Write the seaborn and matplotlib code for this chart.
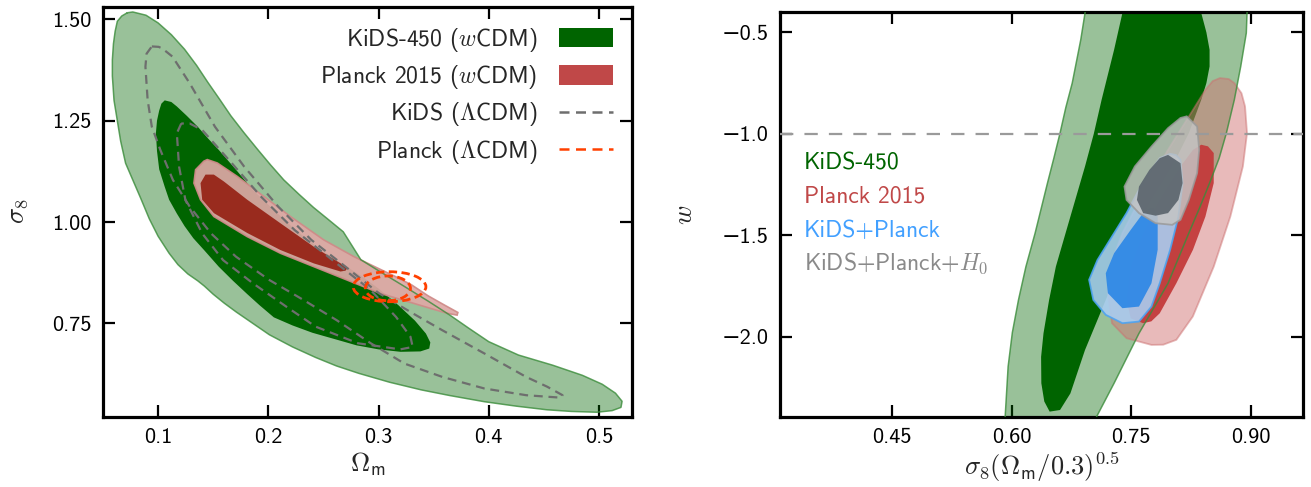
import numpy as np
import pandas as pd
import matplotlib
matplotlib.use("Agg")
import matplotlib.pyplot as plt
import seaborn as sns
from matplotlib.patches import Patch, Ellipse
from matplotlib.lines import Line2D
from matplotlib.ticker import FuncFormatter

sns.set_style("ticks")
plt.rcParams['font.family'] = ['cmss10', 'DejaVu Sans']
plt.rcParams['mathtext.fontset'] = 'cm'
plt.rcParams['axes.unicode_minus'] = True

# ---------------- data: left panel (Omega_m, sigma_8) ----------------
kids_w_outer_om = [0.072, 0.077, 0.089, 0.100, 0.112, 0.124, 0.135, 0.145, 0.156, 0.166, 0.178, 0.190, 0.202,
                   0.214, 0.228, 0.241, 0.255, 0.268, 0.284, 0.300, 0.323, 0.345, 0.365, 0.382, 0.400, 0.427,
                   0.458, 0.485, 0.503, 0.515, 0.521, 0.520, 0.512, 0.498, 0.475, 0.453, 0.425, 0.396, 0.365,
                   0.339, 0.310, 0.282, 0.262, 0.243, 0.222, 0.201, 0.186, 0.171, 0.160, 0.150, 0.142, 0.136,
                   0.127, 0.118, 0.110, 0.100, 0.092, 0.084, 0.077, 0.0705, 0.066, 0.063, 0.060, 0.0585,
                   0.0585, 0.0595, 0.061, 0.063, 0.067]
kids_w_outer_s8 = [1.516, 1.518, 1.510, 1.491, 1.462, 1.426, 1.386, 1.345, 1.302, 1.262, 1.220, 1.180, 1.141,
                   1.104, 1.068, 1.036, 1.005, 0.976, 0.907, 0.880, 0.842, 0.805, 0.770, 0.738, 0.705, 0.672,
                   0.647, 0.622, 0.600, 0.578, 0.558, 0.543, 0.535, 0.531, 0.533, 0.537, 0.546, 0.557, 0.572,
                   0.586, 0.605, 0.627, 0.645, 0.666, 0.692, 0.722, 0.750, 0.778, 0.800, 0.822, 0.842, 0.855,
                   0.872, 0.895, 0.923, 0.965, 1.008, 1.060, 1.104, 1.145, 1.200, 1.250, 1.300, 1.360,
                   1.400, 1.440, 1.470, 1.495, 1.508]

kids_w_inner_om = [0.106, 0.112, 0.117, 0.126, 0.136, 0.145, 0.155, 0.163, 0.171, 0.186, 0.205, 0.224, 0.247,
                   0.270, 0.285, 0.300, 0.318, 0.333, 0.343, 0.347, 0.346, 0.338, 0.320, 0.300, 0.280, 0.262,
                   0.240, 0.222, 0.205, 0.192, 0.181, 0.168, 0.155, 0.142, 0.132, 0.124, 0.117, 0.110, 0.106,
                   0.101, 0.099, 0.098, 0.099, 0.101, 0.103]
kids_w_inner_s8 = [1.300, 1.296, 1.285, 1.262, 1.235, 1.207, 1.178, 1.153, 1.128, 1.079, 1.030, 0.982, 0.933,
                   0.892, 0.866, 0.836, 0.795, 0.757, 0.725, 0.703, 0.688, 0.681, 0.680, 0.686, 0.696, 0.710,
                   0.727, 0.745, 0.765, 0.795, 0.822, 0.855, 0.890, 0.930, 0.960, 0.990, 1.021, 1.055, 1.087,
                   1.130, 1.175, 1.219, 1.250, 1.275, 1.292]

planck_w_outer_om = [0.1415, 0.134, 0.1325, 0.1385, 0.1506, 0.1809, 0.211, 0.2413, 0.2715, 0.3017, 0.3319,
                     0.3622, 0.3713, 0.372, 0.360, 0.345, 0.330, 0.315, 0.298, 0.2775, 0.2503, 0.2201, 0.196,
                     0.1718, 0.1537, 0.1446]
planck_w_outer_s8 = [1.150, 1.129, 1.096, 1.055, 1.0136, 0.964, 0.923, 0.890, 0.857, 0.824, 0.7995,
                     0.775, 0.7705, 0.777, 0.795, 0.818, 0.845, 0.866, 0.888, 0.915, 0.956, 1.0136, 1.063,
                     1.1125, 1.1456, 1.154]

planck_w_inner_om = [0.143, 0.1385, 0.140, 0.1506, 0.1809, 0.211, 0.2413, 0.2655, 0.270, 0.272, 0.268, 0.2413,
                     0.211, 0.1809, 0.1597, 0.1506]
planck_w_inner_s8 = [1.117, 1.096, 1.055, 1.022, 0.973, 0.931, 0.898, 0.878, 0.880, 0.887, 0.894, 0.939,
                     0.997, 1.055, 1.100, 1.117]

kids_l_outer_om = [0.0943, 0.1005, 0.1038, 0.113, 0.1287, 0.1516, 0.178, 0.209, 0.239, 0.270, 0.3006, 0.331,
                   0.358, 0.396, 0.434, 0.453, 0.467, 0.465, 0.434, 0.396, 0.358, 0.3235, 0.293, 0.262, 0.2318,
                   0.201, 0.1707, 0.148, 0.1287, 0.1134, 0.102, 0.0943, 0.0905, 0.0885, 0.0895]
kids_l_outer_s8 = [1.433, 1.432, 1.428, 1.408, 1.342, 1.235, 1.137, 1.038, 0.956, 0.890, 0.824, 0.775,
                   0.733, 0.676, 0.618, 0.594, 0.573, 0.567, 0.573, 0.5896, 0.618, 0.651, 0.701, 0.758, 0.808,
                   0.857, 0.9145, 0.972, 1.038, 1.104, 1.178, 1.235, 1.301, 1.383, 1.415]

kids_l_inner_om = [0.121, 0.117, 0.119, 0.1248, 0.140, 0.159, 0.186, 0.2165, 0.243, 0.2815, 0.3197, 0.331,
                   0.329, 0.3159, 0.293, 0.262, 0.224, 0.1936, 0.1669, 0.140, 0.1287]
kids_l_inner_s8 = [1.243, 1.219, 1.137, 1.054, 0.972, 0.906, 0.849, 0.791, 0.742, 0.701, 0.686, 0.692,
                   0.717, 0.766, 0.832, 0.898, 0.980, 1.062, 1.145, 1.227, 1.243]

# Planck LCDM ellipses: centre (Om, s8), width, height
planck_l_center = [(0.310, 0.8405), (0.3085, 0.8365)]
planck_l_size = [(0.066, 0.074), (0.041, 0.061)]

# ---------------- data: right panel (S8, w) ----------------
r_kids_out_x = [0.589, 0.592, 0.5957, 0.601, 0.6087, 0.618, 0.6295, 0.645, 0.653, 0.6607, 0.668, 0.676, 0.6867,
                0.692, 0.695, 0.896, 0.8949, 0.894, 0.887, 0.879, 0.869, 0.860, 0.848, 0.835, 0.822, 0.796,
                0.7596, 0.7284, 0.7065, 0.700]
r_kids_out_w = [-2.55, -2.395, -2.148, -1.98, -1.819, -1.655, -1.490, -1.243, -1.12, -0.997, -0.87, -0.75, -0.536,
                -0.405, -0.30, -0.30, -0.405, -0.503, -0.668, -0.832, -0.997, -1.12, -1.243, -1.37, -1.490, -1.737,
                -1.984, -2.230, -2.395, -2.55]

r_kids_in_x = [0.6477, 0.641, 0.6373, 0.637, 0.640, 0.647, 0.6555, 0.6737, 0.692, 0.703, 0.7128, 0.7284, 0.7388,
               0.743, 0.834, 0.8376, 0.844, 0.848, 0.848, 0.844, 0.8376, 0.822, 0.8012, 0.7752, 0.744, 0.718,
               0.692, 0.6737, 0.6607]
r_kids_in_w = [-2.37, -2.32, -2.23, -2.10, -1.984, -1.82, -1.655, -1.408, -1.161, -1.0, -0.832, -0.586, -0.405,
               -0.30, -0.30, -0.405, -0.50, -0.586, -0.668, -0.75, -0.832, -0.997, -1.161, -1.326, -1.572, -1.819,
               -2.066, -2.280, -2.362]

r_planck_out_x = [0.861, 0.872, 0.879, 0.888, 0.8924, 0.8949, 0.8897, 0.874, 0.8532, 0.827, 0.8064, 0.790,
                  0.7752, 0.744, 0.7258, 0.7206, 0.7232, 0.7388, 0.7648, 0.796, 0.8272, 0.8428, 0.852]
r_planck_out_w = [-0.7253, -0.730, -0.75, -0.80, -0.865, -0.997, -1.161, -1.408, -1.655, -1.901, -2.016, -2.040,
                  -2.041, -2.008, -1.934, -1.786, -1.655, -1.490, -1.293, -1.079, -0.882, -0.783, -0.74]

r_planck_in_x = [0.8376, 0.846, 0.8532, 0.8532, 0.8428, 0.8272, 0.8064, 0.7856, 0.775, 0.7648, 0.7492, 0.744,
                 0.7492, 0.7648, 0.7856, 0.8116, 0.8272]
r_planck_in_w = [-1.054, -1.062, -1.095, -1.243, -1.408, -1.572, -1.737, -1.885, -1.925, -1.934, -1.910, -1.819,
                 -1.655, -1.490, -1.326, -1.161, -1.079]

r_kp_out_x = [0.7986, 0.806, 0.8116, 0.8142, 0.809, 0.7986, 0.7856, 0.7752, 0.7596, 0.7388, 0.718, 0.7024,
              0.6971, 0.7076, 0.7232, 0.744, 0.7596, 0.7752, 0.7856]
r_kp_out_w = [-1.099, -1.105, -1.128, -1.243, -1.408, -1.572, -1.737, -1.852, -1.926, -1.934, -1.893, -1.819,
              -1.720, -1.622, -1.523, -1.391, -1.276, -1.178, -1.120]

r_kp_in_x = [0.7778, 0.783, 0.783, 0.7752, 0.7596, 0.7388, 0.7206, 0.718, 0.7284, 0.7492, 0.7648, 0.772]
r_kp_in_w = [-1.367, -1.408, -1.572, -1.737, -1.852, -1.860, -1.786, -1.688, -1.589, -1.474, -1.391, -1.37]

r_kph_out_x = [0.8194, 0.8324, 0.835, 0.8324, 0.822, 0.8116, 0.8012, 0.7804, 0.7596, 0.744, 0.7414, 0.7544,
               0.7752, 0.796, 0.8116]
r_kph_out_w = [-0.914, -0.964, -1.079, -1.194, -1.326, -1.424, -1.449, -1.441, -1.391, -1.326, -1.260, -1.161,
               -1.063, -0.972, -0.922]

r_kph_in_x = [0.796, 0.8116, 0.8142, 0.809, 0.796, 0.7804, 0.7648, 0.757, 0.7596, 0.7726, 0.7856]
r_kph_in_w = [-1.104, -1.145, -1.243, -1.326, -1.391, -1.404, -1.391, -1.326, -1.260, -1.178, -1.120]

w_lcdm = -1.0

left_xticks = [0.1, 0.2, 0.3, 0.4, 0.5]
left_yticks = [0.75, 1.00, 1.25, 1.50]
right_xticks = [0.45, 0.60, 0.75, 0.90]
right_yticks = [-2.0, -1.5, -1.0, -0.5]

legend_labels = ['KiDS-450 ($w$CDM)', 'Planck 2015 ($w$CDM)', r'KiDS ($\Lambda$CDM)', r'Planck ($\Lambda$CDM)']
right_labels = ['KiDS-450', 'Planck 2015', 'KiDS+Planck', r'KiDS+Planck+$H_0$']

# ---------------- colours ----------------
C_GREEN = '#006400'
C_GREEN_EDGE = '#3a8c3a'
C_RED_LEG = '#c04848'

# ---------------- figure ----------------
W, H = 1311, 487
fig = plt.figure(figsize=(W / 100, H / 100), dpi=100)
ax1 = fig.add_axes([103 / W, (H - 416.7) / H, (632 - 103) / W, (416.7 - 6.7) / H])
ax2 = fig.add_axes([780 / W, (H - 417.3) / H, (1303 - 780) / W, (417.3 - 12.3) / H])


def closed(x, y):
    return list(x) + [x[0]], list(y) + [y[0]]


# left panel fills
ax1.fill(kids_w_outer_om, kids_w_outer_s8, facecolor=C_GREEN, alpha=0.4, lw=0, zorder=1)
ax1.fill(kids_w_inner_om, kids_w_inner_s8, facecolor=C_GREEN, lw=0, zorder=2)
ax1.fill(planck_w_outer_om, planck_w_outer_s8, facecolor='#dfa8a6', alpha=0.92, edgecolor='#cf8a88', lw=1.2, zorder=3)
ax1.fill(planck_w_inner_om, planck_w_inner_s8, facecolor='#992b1e', lw=0, zorder=4)
xo, yo = closed(kids_w_outer_om, kids_w_outer_s8)
ax1.plot(xo, yo, color=C_GREEN_EDGE, lw=1.1, alpha=0.8, zorder=5)
for xs, ys in [(kids_l_outer_om, kids_l_outer_s8), (kids_l_inner_om, kids_l_inner_s8)]:
    xc, yc = closed(xs, ys)
    sns.lineplot(x=xc, y=yc, sort=False, estimator=None, ax=ax1, color='#6e6e6e', lw=1.6,
                 linestyle=(0, (4, 2.6)), zorder=6)
for (cx, cy), (ew, eh) in zip(planck_l_center, planck_l_size):
    ax1.add_patch(Ellipse((cx, cy), ew, eh, fill=False, edgecolor='#ff4000', lw=2.0,
                          linestyle=(0, (3, 1.6)), zorder=7))

ax1.set_xlim(0.05, 0.53)
ax1.set_ylim(0.52, 1.531)
ax1.set_xticks(left_xticks)
ax1.set_yticks(left_yticks)
ax1.xaxis.set_major_formatter(FuncFormatter(lambda v, p: f'{v:.1f}'))
ax1.yaxis.set_major_formatter(FuncFormatter(lambda v, p: f'{v:.2f}'))
ax1.set_xlabel(r'$\Omega_\mathsf{m}$', fontsize=19, labelpad=3)
ax1.set_ylabel(r'$\sigma_\mathsf{8}$', fontsize=19, labelpad=16)

handles = [Patch(facecolor=C_GREEN, edgecolor='none'),
           Patch(facecolor=C_RED_LEG, edgecolor='none'),
           Line2D([], [], color='#6e6e6e', lw=1.8, linestyle=(0, (4, 2.6))),
           Line2D([], [], color='#ff4000', lw=1.8, linestyle=(0, (4, 2.6)))]
ax1.legend(handles, legend_labels, loc='upper right', frameon=False, markerfirst=False, fontsize=17,
           handlelength=2.3, handleheight=0.9, labelspacing=0.4, handletextpad=0.9,
           borderaxespad=0.4)

# right panel fills
ax2.fill(r_kids_out_x, r_kids_out_w, facecolor=C_GREEN, alpha=0.4, lw=0, zorder=1)
ax2.fill(r_kids_in_x, r_kids_in_w, facecolor=C_GREEN, lw=0, zorder=2)
ax2.fill(r_planck_out_x, r_planck_out_w, facecolor='#d27676', alpha=0.5, edgecolor='#cc7070', lw=1.3, zorder=3)
ax2.fill(r_planck_in_x, r_planck_in_w, facecolor='#c33b3b', alpha=0.95, lw=0, zorder=4)
ax2.fill(r_kp_out_x, r_kp_out_w, facecolor='#a9cdf0', alpha=0.9, edgecolor='#4ea3f0', lw=1.3, zorder=5)
ax2.fill(r_kp_in_x, r_kp_in_w, facecolor='#2a86e6', alpha=0.9, lw=0, zorder=6)
ax2.fill(r_kph_out_x, r_kph_out_w, facecolor='#c4c4c4', alpha=0.85, edgecolor='#9a9a9a', lw=1.3, zorder=7)
ax2.fill(r_kph_in_x, r_kph_in_w, facecolor='#5e6870', alpha=0.95, lw=0, zorder=8)
xo, yo = closed(r_kids_out_x, r_kids_out_w)
ax2.plot(xo, yo, color=C_GREEN_EDGE, lw=1.1, alpha=0.8, zorder=9)
ax2.axhline(w_lcdm, color='#9a9a9a', lw=1.6, linestyle=(0, (6, 5)), zorder=10)

label_colors = ['#006400', '#c04848', '#42a0ff', '#8a8a8a']
label_w = [-1.145, -1.309, -1.479, -1.638]
for txt, col, yv in zip(right_labels, label_colors, label_w):
    ax2.text(0.3397, yv, txt, color=col, fontsize=17, va='center', ha='left', zorder=11)

ax2.set_xlim(0.31, 0.965)
ax2.set_ylim(-2.398, -0.401)
ax2.set_xticks(right_xticks)
ax2.set_yticks(right_yticks)
ax2.xaxis.set_major_formatter(FuncFormatter(lambda v, p: f'{v:.2f}'))
ax2.yaxis.set_major_formatter(FuncFormatter(lambda v, p: f'{v:.1f}'.replace('-', '\u2212')))
ax2.set_xlabel(r'$\sigma_\mathsf{8}(\Omega_\mathsf{m}/\mathsf{0.3})^{\mathsf{0.5}}$', fontsize=19, labelpad=2)
ax2.set_ylabel(r'$w$', fontsize=19, labelpad=18)

for ax in (ax1, ax2):
    for sp in ax.spines.values():
        sp.set_linewidth(2.3)
        sp.set_color('black')
        sp.set_visible(True)
    ax.tick_params(direction='in', length=8.5, width=1.6, top=True, right=True,
                   labelsize=16, pad=8, colors='black')
    ax.set_facecolor('white')

fig.savefig('out.png', dpi=100, facecolor='white')
